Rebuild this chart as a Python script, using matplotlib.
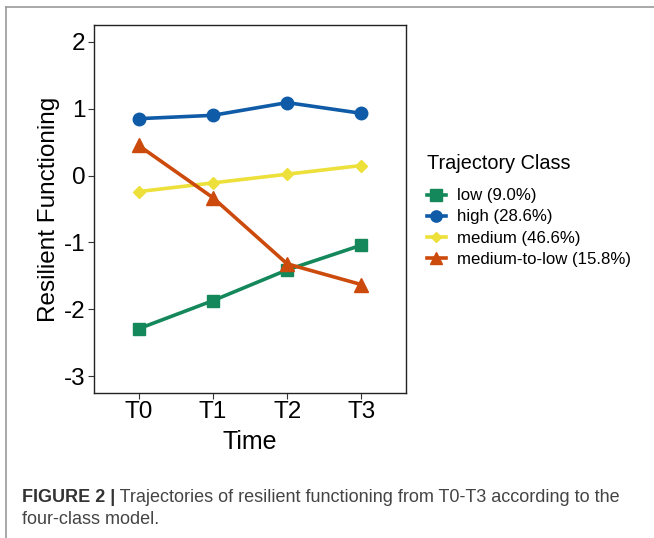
import matplotlib.pyplot as plt
from matplotlib.lines import Line2D

plt.rcParams['font.family'] = ['Liberation Sans', 'DejaVu Sans']
plt.rcParams['axes.unicode_minus'] = False

# data
times = ['T0', 'T1', 'T2', 'T3']
low = [-2.29, -1.87, -1.41, -1.04]
high = [0.85, 0.90, 1.09, 0.93]
medium = [-0.24, -0.11, 0.02, 0.15]
medium_to_low = [0.45, -0.33, -1.32, -1.63]

labels = ['low (9.0%)', 'high (28.6%)', 'medium (46.6%)', 'medium-to-low (15.8%)']
colors = ['#15885B', '#0F5BA7', '#EDE03A', '#CC4A0C']
markers = ['s', 'o', 'D', '^']
msizes = [9, 9, 6, 10]

fig = plt.figure(figsize=(6.54, 5.38), dpi=100)
ax = fig.add_axes([94 / 654, 1 - 393 / 538, 312 / 654, 368 / 538])

x = range(len(times))
for vals, lab, c, m, ms in zip([low, high, medium, medium_to_low], labels, colors, markers, msizes):
    ax.plot(x, vals, color=c, lw=2.6, marker=m, ms=ms, label=lab, zorder=3)

ax.set_xlim(-0.6, 3.6)
ax.set_ylim(-3.25, 2.25)
ax.set_xticks(list(x))
ax.set_xticklabels(times)
ax.set_yticks([2, 1, 0, -1, -2, -3])
ax.tick_params(labelsize=17.5, length=4, width=0.8, color='#333333', pad=2)
ax.set_xlabel('Time', fontsize=18, labelpad=5)
ax.set_ylabel('Resilient Functioning', fontsize=17.5, labelpad=3)
for s in ax.spines.values():
    s.set_linewidth(1.0)
    s.set_color('#222222')

handles = [Line2D([], [], color=c, lw=2.6, marker=m, ms=ms * 0.9)
           for c, m, ms in zip(colors, markers, msizes)]
leg = fig.legend(handles, labels, title='Trajectory Class', loc='upper left',
                 bbox_to_anchor=(412 / 654, 1 - 139 / 538), frameon=False,
                 fontsize=12.1, title_fontsize=14.3, handlelength=1.1,
                 handletextpad=0.7, labelspacing=0.36)
leg._legend_box.align = 'left'
leg._legend_box.sep = 11

# panel frame
fig.add_artist(Line2D([6 / 654, 6 / 654], [0, 1 - 7 / 538], color='#9a9a9a', lw=1.2))
fig.add_artist(Line2D([6 / 654, 1], [1 - 7 / 538, 1 - 7 / 538], color='#9a9a9a', lw=1.2))

# caption
t = fig.text(22 / 654, 1 - 497 / 538, 'FIGURE 2 |', fontsize=13, weight='bold',
             color='#333333', va='center')
ax.annotate(' Trajectories of resilient functioning from T0-T3 according to the',
            xy=(1, 0.5), xycoords=t, va='center', fontsize=13, color='#444444')
fig.text(22 / 654, 1 - 520 / 538, 'four-class model.', fontsize=13,
         color='#444444', va='center')

fig.savefig('out.png', dpi=100)
